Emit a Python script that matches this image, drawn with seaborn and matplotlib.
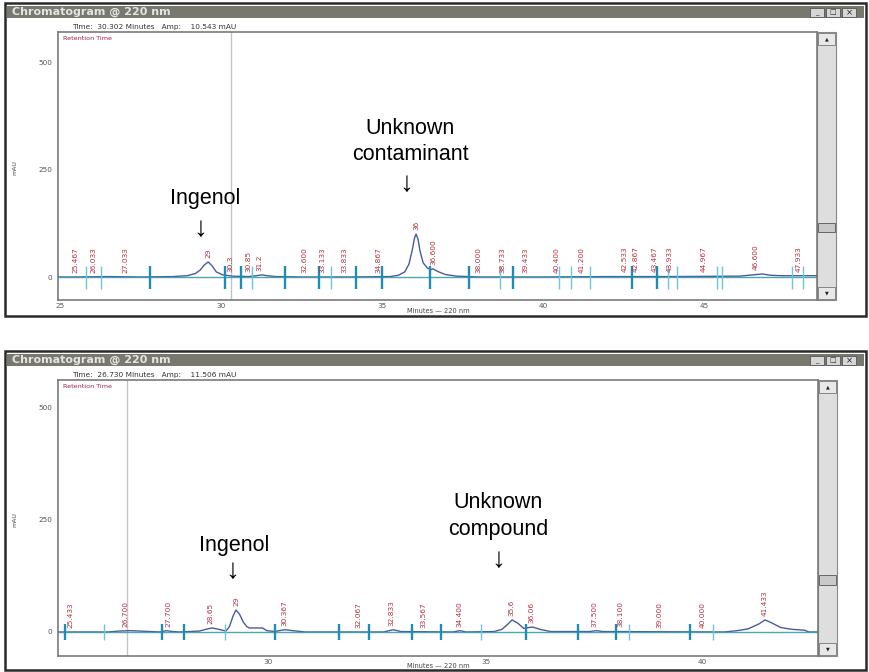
import numpy as np
import pandas as pd
import matplotlib
matplotlib.use("Agg")
import matplotlib.pyplot as plt
from matplotlib.patches import Rectangle
import seaborn as sns

# ---------------- Run 1: sample containing the contaminant ----------------
run1_time = [24.9, 25.5, 26.5, 27.5, 28.5, 28.95, 29.2, 29.35, 29.48, 29.6, 29.72, 29.85,
             30.05, 30.35, 30.85, 31.1, 31.27, 31.42, 31.7, 32.5, 34.0, 35.25, 35.5,
             35.7, 35.83, 35.93, 36.0, 36.05, 36.11, 36.18, 36.27, 36.4, 36.5, 36.58,
             36.72, 36.95, 37.3, 38.0, 40.0, 42.0, 44.0, 46.1, 46.5, 46.8, 47.05, 47.4, 48.5]
run1_mau = [0, 0, 1, 0, 1, 3, 8, 16, 28, 35, 26, 12,
            5, 2, 1, 3, 5, 3, 1, 0, 0, 1, 4,
            12, 30, 62, 90, 100, 88, 58, 33, 21, 17, 19,
            13, 6, 2, 0, 0, 1, 1, 2, 5, 7, 4, 3, 3]
run1_labels = ["25.467", "26.033", "27.033", "29", "30.3", "30.85", "31.2", "32.600",
               "33.133", "33.833", "34.867", "36", "36.600", "38.000", "38.733", "39.433",
               "40.400", "41.200", "42.533", "42.867", "43.467", "43.933", "44.967",
               "46.600", "47.933"]
run1_label_times = [25.467, 26.033, 27.033, 29.6, 30.3, 30.85, 31.2, 32.6,
                    33.133, 33.833, 34.867, 36.05, 36.6, 38.0, 38.733, 39.433,
                    40.4, 41.2, 42.533, 42.867, 43.467, 43.933, 44.967,
                    46.6, 47.933]
run1_events_major = [27.79, 30.12, 30.62, 31.98, 33.04, 34.18, 34.99, 36.48, 37.69,
                     39.06, 42.75, 43.53]
run1_events_minor = [25.81, 26.27, 30.96, 33.41, 38.65, 40.48, 40.85, 41.44, 43.87,
                     44.15, 45.39, 45.54, 47.71, 48.05]
run1_cursor = 30.302
run1_amp = 10.543

# ---------------- Run 2: sample containing the unknown compound ----------------
run2_time = [25.1, 26.3, 26.55, 26.8, 27.05, 27.5, 27.65, 27.78, 27.95, 28.4, 28.6, 28.7,
             28.85, 29.02, 29.1, 29.18, 29.25, 29.33, 29.42, 29.5, 29.56, 29.86, 29.96,
             30.15, 30.3, 30.4, 30.55, 30.85, 32.65, 32.87, 33.05, 34.25, 34.41, 34.55,
             35.2, 35.38, 35.52, 35.61, 35.74, 35.88, 36.0, 36.09, 36.25, 36.5, 37.4,
             37.55, 37.7, 40.5, 40.8, 41.05, 41.3, 41.44, 41.58, 41.8, 42.05, 42.35,
             42.45, 42.7]
run2_mau = [0, 0, 2, 3, 2, 0, 3, 1, 0, 2, 7, 9,
            6, 2, 12, 35, 49, 40, 22, 12, 9, 9, 3,
            1, 4, 5, 3, 0, 0, 5, 1, 0, 3, 0,
            1, 6, 18, 27, 20, 8, 10, 11, 6, 1, 1,
            3, 1, 0, 3, 7, 18, 27, 21, 10, 6, 4,
            0, 0]
run2_labels = ["25.433", "26.700", "27.700", "28.65", "29", "30.367", "32.067", "32.833",
               "33.567", "34.400", "35.6", "36.06", "37.500", "38.100", "39.000",
               "40.000", "41.433"]
run2_label_times = [25.433, 26.7, 27.7, 28.65, 29.25, 30.367, 32.067, 32.833,
                    33.567, 34.4, 35.6, 36.06, 37.5, 38.1, 39.0,
                    40.0, 41.433]
run2_events_major = [25.31, 27.55, 28.05, 30.15, 31.62, 32.32, 33.31, 33.97, 35.93,
                     37.13, 38.0, 39.71]
run2_events_minor = [26.21, 29.0, 34.90, 38.30, 40.24]
run2_cursor = 26.730
run2_amp = 11.506

y_ticks = [0, 250, 500]

# ---------------- styling ----------------
sns.set_style("white")
plt.rcParams["font.family"] = ["DejaVu Sans"]
W, H = 869, 672
fig = plt.figure(figsize=(W / 100, H / 100), dpi=100)
fig.patch.set_facecolor("white")

TRACE = "#4b5a9e"
BASE = "#3a9ea6"
EV_MAJOR = "#1f8cb4"
EV_MINOR = "#6cc6da"
LABEL_RED = "#b2303e"
ANNOT_FONT = ["Liberation Sans", "DejaVu Sans"]


def fx(x):
    return x / W


def fy(y):
    return 1 - y / H


def box(x0, y0, x1, y1, **kw):
    fig.patches.append(Rectangle((fx(x0), fy(y1)), (x1 - x0) / W, (y1 - y0) / H,
                                 transform=fig.transFigure, **kw))


def ftext(x, y, s, **kw):
    fig.text(fx(x), fy(y), s, **kw)


def window(top, bottom, plot_box, thumb, info, xlab_y):
    # outer frame
    box(5, top, 866, bottom, facecolor="white", edgecolor="#2a2a2a", linewidth=1.8, zorder=0)
    # title bar
    box(7, top + 3, 864, top + 15, facecolor="#78786f", edgecolor="none", zorder=1)
    ftext(12, top + 9, "Chromatogram @ 220 nm", fontsize=8, color="#e4e4e4",
          fontweight="bold", va="center", ha="left")
    for bx in (810, 826, 842):
        box(bx, top + 5, bx + 14, top + 13.5, facecolor="#d6d6d6", edgecolor="#555555",
            linewidth=0.6, zorder=2)
    ftext(817, top + 10.5, "_", fontsize=5, color="#222", ha="center", va="center")
    ftext(833, top + 9.3, "□", fontsize=5, color="#222", ha="center", va="center")
    ftext(849, top + 9.3, "×", fontsize=6, color="#222", ha="center", va="center")
    # readout line
    ftext(72, top + 24, info, fontsize=5.3, color="#333333", va="center", ha="left")
    # scrollbar
    x0, y0, x1, y1 = plot_box
    box(x1, y0, x1 + 19, y1, facecolor="#dedede", edgecolor="#888888", linewidth=0.8, zorder=1)
    box(x1 + 1, y0 + 1, x1 + 18, y0 + 13, facecolor="#e8e8e8", edgecolor="#777777",
        linewidth=0.6, zorder=2)
    box(x1 + 1, y1 - 13, x1 + 18, y1 - 1, facecolor="#e8e8e8", edgecolor="#777777",
        linewidth=0.6, zorder=2)
    ftext(x1 + 9.5, y0 + 7, "▲", fontsize=3.5, color="#222", ha="center", va="center")
    ftext(x1 + 9.5, y1 - 7, "▼", fontsize=3.5, color="#222", ha="center", va="center")
    box(x1 + 1, thumb[0], x1 + 18, thumb[1], facecolor="#c9c9c9", edgecolor="#666666",
        linewidth=0.7, zorder=2)
    # axis captions
    ftext(15, (y0 + y1) / 2 + 2, "mAU", fontsize=4.5, color="#444", rotation=90,
          ha="center", va="center")
    ftext(438, xlab_y, "Minutes — 220 nm", fontsize=4.8, color="#444", ha="center",
          va="center")


def panel(plot_box, xlim, ylim, xticks, time, mau, labels, label_times,
          ev_major, ev_minor, ev_span, cursor):
    x0, y0, x1, y1 = plot_box
    ax = fig.add_axes([fx(x0), fy(y1), (x1 - x0) / W, (y1 - y0) / H])
    ax.set_zorder(2.5)
    ax.set_facecolor("white")
    ax.axvline(cursor, color="#c4c4c4", linewidth=1.0, zorder=1)
    df = pd.DataFrame({"time": time, "mAU": mau})
    sns.lineplot(data=df, x="time", y="mAU", ax=ax, color=TRACE, linewidth=1.0,
                 sort=False, estimator=None, zorder=3)
    ax.axhline(0, color=BASE, linewidth=1.0, alpha=0.9, zorder=4)
    ax.vlines(ev_major, ev_span[0], ev_span[1], color=EV_MAJOR, linewidth=1.7, zorder=5)
    ax.vlines(ev_minor, ev_span[0], ev_span[1], color=EV_MINOR, linewidth=1.0, zorder=5)
    for txt, t in zip(labels, label_times):
        level = max(float(np.interp(t, time, mau)), 0.0)
        ax.annotate(txt, (t, level), xytext=(0, 3), textcoords="offset points",
                    rotation=90, ha="center", va="bottom", fontsize=5.3,
                    color=LABEL_RED, zorder=6)
    ax.text(0.006, 0.985, "Retention Time", transform=ax.transAxes, fontsize=4.6,
            color="#a0204a", ha="left", va="top")
    ax.set_xlim(*xlim)
    ax.set_ylim(*ylim)
    ax.set_xticks(xticks)
    ax.set_xticklabels([str(v) for v in xticks])
    ax.set_yticks(y_ticks)
    ax.set_yticklabels([str(v) for v in y_ticks])
    ax.set_xlabel("")
    ax.set_ylabel("")
    ax.tick_params(axis="x", length=0, pad=2, labelsize=5.2, colors="#555555")
    ax.tick_params(axis="y", length=3, width=0.6, direction="out", pad=1, labelsize=5.2,
                   colors="#555555")
    for side in ("left", "top", "bottom", "right"):
        ax.spines[side].set_color("#7a7a7a")
        ax.spines[side].set_linewidth(1.2)
    return ax


# ---------------- upper window ----------------
box1 = (58, 32, 817, 300)
window(3, 316, box1, (223, 232),
       f"Time:  {run1_cursor:.3f} Minutes   Amp:    {run1_amp:.3f} mAU", 311)
panel(box1, (24.94, 48.49), (-53.5, 570), [25, 30, 35, 40, 45], run1_time, run1_mau,
      run1_labels, run1_label_times, run1_events_major, run1_events_minor, (-28, 26),
      run1_cursor)

# ---------------- lower window ----------------
box2 = (58, 380, 818, 656)
window(351, 670, box2, (575, 585),
       f"Time:  {run2_cursor:.3f} Minutes   Amp:    {run2_amp:.3f} mAU", 666)
panel(box2, (25.15, 42.66), (-53.6, 562.5), [30, 35, 40], run2_time, run2_mau,
      run2_labels, run2_label_times, run2_events_major, run2_events_minor, (-18, 18),
      run2_cursor)

# ---------------- peak call-outs ----------------
big = dict(fontsize=15.5, color="black", ha="center", va="center", family=ANNOT_FONT,
           zorder=4)
arrow = dict(big, fontsize=20, fontweight="light")
ftext(205, 199, "Ingenol", **big)
ftext(200, 229, "↓", **arrow)
ftext(410, 128, "Unknown", **big)
ftext(410, 155, "contaminant", **big)
ftext(406, 184, "↓", **arrow)

ftext(234, 545, "Ingenol", **big)
ftext(232, 571, "↓", **arrow)
ftext(498, 502, "Unknown", **big)
ftext(498, 529, "compound", **big)
ftext(498, 560, "↓", **arrow)

fig.savefig("out.png", dpi=100, facecolor="white")
